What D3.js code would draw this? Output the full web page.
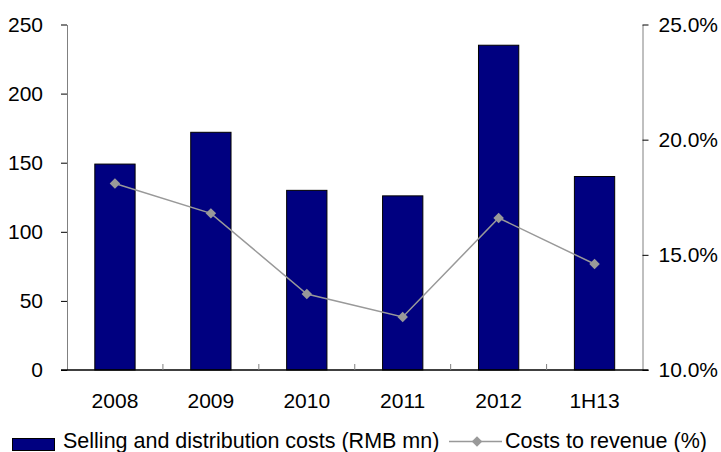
<!DOCTYPE html>
<html>
<head>
<meta charset="utf-8">
<script src="https://cdn.jsdelivr.net/npm/d3@7"></script>
<style>
  body { margin: 0; background: #fff; }
  text { font-family: "Liberation Sans", Arial, sans-serif; fill: #000; }
</style>
</head>
<body>
<svg id="svg_main" width="721" height="452"></svg>
<script>
var categories = ['2008', '2009', '2010', '2011', '2012', '1H13']
var costs = [149, 172, 130, 126, 235, 140]        // RMB mn
var ratio = [18.1, 16.8, 13.3, 12.3, 16.6, 14.6]  // %
var leftTicks = [0, 50, 100, 150, 200, 250]
var rightTicks = [10, 15, 20, 25]

const plot = { left: 67, right: 642.5, top: 24.5, bottom: 370 }
const fs = "21px"

var svg = d3.select("#svg_main")

const x = d3.scaleBand().domain(categories).range([plot.left, plot.right]).padding(0)
const yL = d3.scaleLinear().domain([0, 250]).range([plot.bottom, plot.top])
const yR = d3.scaleLinear().domain([10, 25]).range([plot.bottom, plot.top])
const barW = x.bandwidth() * 0.42

// bars
svg.append("g")
    .selectAll("rect")
    .data(categories)
    .enter()
    .append("rect")
      .attr("x", d => x(d) + (x.bandwidth() - barW) / 2)
      .attr("y", (d, i) => yL(costs[i]))
      .attr("width", barW)
      .attr("height", (d, i) => yL(0) - yL(costs[i]))
      .attr("fill", "#000080")
      .attr("stroke", "#000")
      .attr("stroke-width", 1)

// left axis
var gl = svg.append("g")
    .attr("transform", "translate(" + plot.left + ",0)")
    .call(d3.axisLeft(yL).tickValues(leftTicks).tickSize(6).tickPadding(18).tickSizeOuter(0))
gl.select(".domain").attr("stroke", "#808080")
gl.selectAll(".tick line").attr("stroke", "#000")
gl.selectAll("text").style("font-size", fs).attr("font-family", null)

// right axis
var gr = svg.append("g")
    .attr("transform", "translate(" + plot.right + ",0)")
    .call(d3.axisRight(yR).tickValues(rightTicks).tickSize(6).tickPadding(10).tickSizeOuter(0)
      .tickFormat(d => d.toFixed(1) + "%"))
gr.select(".domain").attr("stroke", "#808080")
gr.selectAll(".tick line").attr("stroke", "#000")
gr.selectAll("text").style("font-size", fs).attr("font-family", null)

// bottom axis
svg.append("line")
    .attr("x1", plot.left - 6).attr("x2", plot.right + 6)
    .attr("y1", plot.bottom).attr("y2", plot.bottom)
    .attr("stroke", "#000").attr("stroke-width", 1.5)
svg.append("g")
    .selectAll("line")
    .data(categories.slice(1))
    .enter()
    .append("line")
      .attr("x1", d => x(d)).attr("x2", d => x(d))
      .attr("y1", plot.bottom - 6).attr("y2", plot.bottom)
      .attr("stroke", "#808080")
svg.append("g")
    .selectAll("text")
    .data(categories)
    .enter()
    .append("text")
      .attr("x", d => x(d) + x.bandwidth() / 2)
      .attr("y", 408)
      .attr("text-anchor", "middle")
      .style("font-size", fs)
      .text(d => d)

// ratio line
const line = d3.line()
    .x((d, i) => x(categories[i]) + x.bandwidth() / 2)
    .y(d => yR(d))
svg.append("path")
    .datum(ratio)
    .attr("d", line)
    .attr("fill", "none")
    .attr("stroke", "#999999")
    .attr("stroke-width", 1.5)

const diamond = d3.symbol().type(d3.symbolDiamond2).size(70)
svg.append("g")
    .selectAll("path")
    .data(ratio)
    .enter()
    .append("path")
      .attr("d", diamond)
      .attr("transform", (d, i) => "translate(" + (x(categories[i]) + x.bandwidth() / 2) + "," + yR(d) + ")")
      .attr("fill", "#999999")

// legend
var lg = svg.append("g")
lg.append("rect")
    .attr("x", 12.5).attr("y", 438.5).attr("width", 42).attr("height", 12)
    .attr("fill", "#000080").attr("stroke", "#000")
lg.append("text")
    .attr("x", 63).attr("y", 448)
    .style("font-size", "21.5px")
    .text("Selling and distribution costs (RMB mn)")
lg.append("line")
    .attr("x1", 449).attr("x2", 502).attr("y1", 441.5).attr("y2", 441.5)
    .attr("stroke", "#999999").attr("stroke-width", 1.5)
lg.append("path")
    .attr("d", diamond)
    .attr("transform", "translate(477,441.5)")
    .attr("fill", "#999999")
lg.append("text")
    .attr("x", 505).attr("y", 448)
    .style("font-size", "21.5px")
    .text("Costs to revenue (%)")
</script>
</body>
</html>
